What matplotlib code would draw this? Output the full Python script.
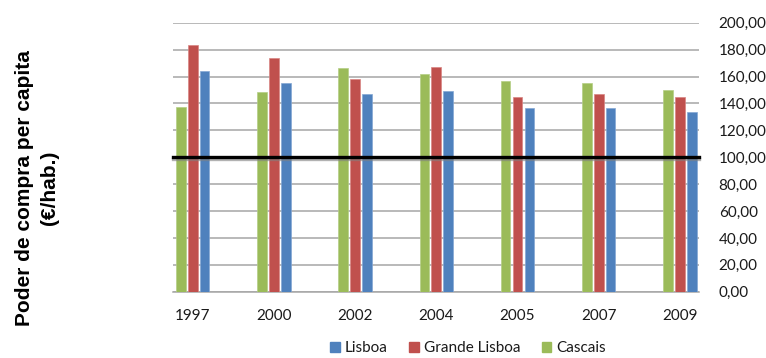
import matplotlib
matplotlib.use("Agg")
import matplotlib.pyplot as plt
import matplotlib.patheffects as pe
from matplotlib.patches import Patch
import numpy as np

years = ["1997", "2000", "2002", "2004", "2005", "2007", "2009"]
cascais = [137.1, 148.2, 166.3, 161.9, 156.7, 155.2, 150.0]
grande_lisboa = [183.2, 174.0, 158.4, 166.8, 145.0, 147.2, 144.5]
lisboa = [164.1, 154.9, 147.2, 149.0, 136.8, 136.4, 133.4]
reference_level = 100
y_ticks = [0, 20, 40, 60, 80, 100, 120, 140, 160, 180, 200]

c_blue = "#4F81BD"
c_red = "#C0504D"
c_green = "#9BBB59"

tick_font = "Lato"

fig = plt.figure(figsize=(7.66, 3.58), dpi=100)
ax = fig.add_axes([172.5 / 766, 66.3 / 358, 526.8 / 766, 269 / 358])

x = np.arange(len(years))
w = 0.119
off = 0.146
ax.bar(x - off, cascais, width=w, color=c_green, edgecolor="#B5CF85", linewidth=0.5, zorder=3)
ax.bar(x, grande_lisboa, width=w, color=c_red, edgecolor="#D98583", linewidth=0.5, zorder=3)
ax.bar(x + off, lisboa, width=w, color=c_blue, edgecolor="#84A7D3", linewidth=0.5, zorder=3)

ax.axhline(reference_level, color="black", linewidth=2.4, zorder=5, clip_on=False,
           path_effects=[pe.SimpleLineShadow(offset=(0, -1.5), shadow_color="gray", alpha=0.6),
                         pe.Normal()])

ax.set_xlim(-0.249, 6.239)
ax.set_ylim(0, 200)
ax.set_yticks(y_ticks)
ax.set_yticklabels([f"{v:.2f}".replace(".", ",") for v in y_ticks])
ax.yaxis.tick_right()
ax.grid(axis="y", color="#A6A6A6", linewidth=1.1, zorder=0)
ax.set_axisbelow(True)
ax.set_xticks(x)
ax.set_xticklabels(years)
ax.tick_params(axis="y", length=0, pad=14, labelsize=11, labelcolor="#1a1a1a")
ax.tick_params(axis="x", length=0, pad=12.5, labelsize=11, labelcolor="#1a1a1a")
for lab in ax.get_xticklabels() + ax.get_yticklabels():
    lab.set_fontfamily(tick_font)
for s in ["top", "left", "right"]:
    ax.spines[s].set_visible(False)
ax.spines["bottom"].set_color("#A6A6A6")
ax.spines["bottom"].set_linewidth(1.1)

fig.text(37 / 766, 1 - 188 / 358, "Poder de compra per capita\n(€/hab.)",
         rotation=90, ha="center", va="center", multialignment="center",
         fontsize=15, fontweight="bold", family="Liberation Sans", linespacing=1.35)

handles = [Patch(color=c_blue, label="Lisboa"),
           Patch(color=c_red, label="Grande Lisboa"),
           Patch(color=c_green, label="Cascais")]
fig.legend(handles=handles, loc="center", bbox_to_anchor=(468 / 766, 1 - 348 / 358),
           ncol=3, frameon=False, prop={"family": tick_font, "size": 11},
           handlelength=0.65, handleheight=0.65, handletextpad=0.3, columnspacing=1.4,
           labelcolor="#1a1a1a")

fig.savefig("out.png", dpi=100)
